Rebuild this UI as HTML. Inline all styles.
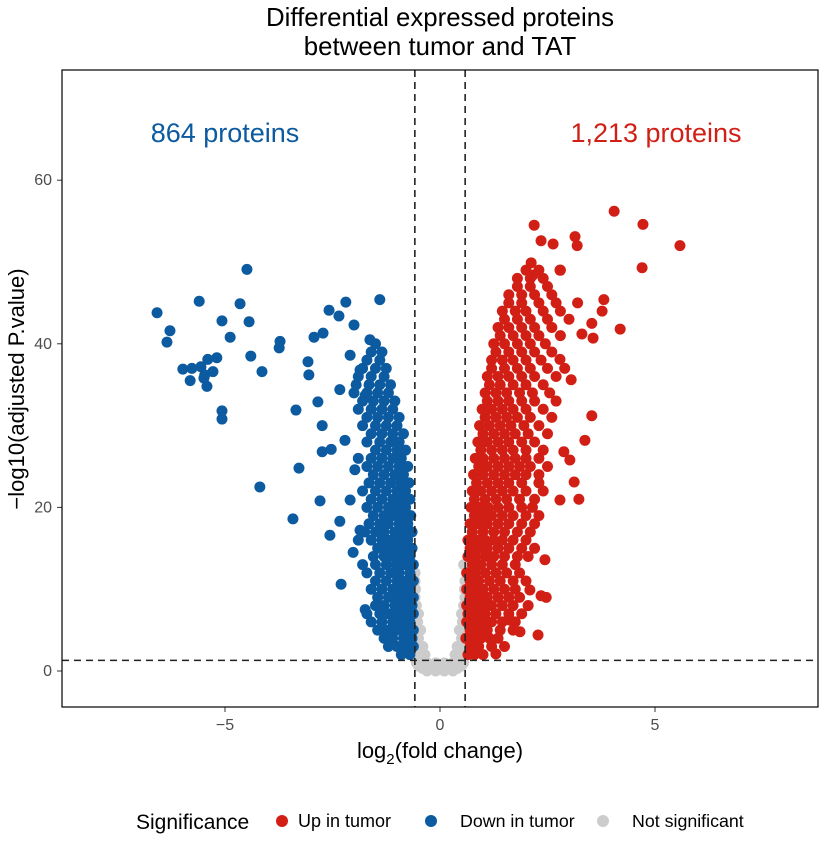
<!DOCTYPE html>
<html><head><meta charset="utf-8"><style>
body{margin:0;background:#fff;}
svg{font-family:"Liberation Sans",Arial,sans-serif;display:block;}
</style></head><body>
<svg id="chart" width="826" height="849" viewBox="0 0 826 849">
<text x="440" y="26" text-anchor="middle" font-size="25.8" fill="#000">Differential expressed proteins</text>
<text x="440" y="55" text-anchor="middle" font-size="25.8" fill="#000">between tumor and TAT</text>
<g id="pts"></g>
<g id="axes"></g>
<rect x="62" y="70" width="756" height="637" fill="none" stroke="#000" stroke-width="1.2"/>
<text x="225" y="142" text-anchor="middle" font-size="27" fill="#0c5aa0">864 proteins</text>
<text x="656" y="142" text-anchor="middle" font-size="27" fill="#d21f15">1,213 proteins</text>
<text transform="translate(24,389) rotate(-90)" text-anchor="middle" font-size="22" fill="#000">−log10(adjusted P.value)</text>
<text x="440" y="758" text-anchor="middle" font-size="22" fill="#000">log<tspan font-size="15" dy="6">2</tspan><tspan dy="-6">(fold change)</tspan></text>
<g>
<text x="136" y="829" font-size="21" fill="#000">Significance</text>
<circle cx="282" cy="821" r="6" fill="#d21f15"/>
<text x="298" y="827" font-size="18">Up in tumor</text>
<circle cx="431" cy="821" r="6" fill="#0c5aa0"/>
<text x="460" y="827" font-size="17.8">Down in tumor</text>
<circle cx="603" cy="821" r="6" fill="#cccccc"/>
<text x="632" y="827" font-size="17.8">Not significant</text>
</g>
</svg>
<script>
const xTicks=[-5,0,5];
const yTicks=[0,20,40,60];
const fcCut=[-0.585,0.585];
const pCut=1.3;
const greyRowsY=[0,0.3,0.6,1,1.5,2,3,4,5,6,7,8,9,10,11,12,13];
const greyRowsX=[[-0.3,-0.1,0.1,0.3],[-0.4,-0.2,0,0.2,0.4],[-0.5,0.5],[-0.55,-0.3,-0.1,0.1,0.3,0.55],[-0.45,0.45],[-0.5,-0.35,0.35,0.5],[-0.55,-0.4,0.4,0.55],[-0.5,0.5],[-0.55,-0.45,0.45,0.55],[-0.52,0.52],[-0.55,-0.5,0.5,0.55],[-0.55,0.55],[-0.58,0.58],[-0.57,0.57],[-0.58,0.58],[-0.58],[0.55]];
const blueRowsY=[2,3,4,5,6,7,8,9,10,11,12,13,14,15,16,17,18,19,20,21,22,23,24,25,26,27,28,29,30,31,32,33,34,35,36,37,38,39,40];
const blueRowsX=[[-0.7,-0.9],[-0.62,-0.8,-1.0,-1.2],[-0.65,-0.85,-1.1,-1.3],[-0.62,-0.8,-1.0,-1.2,-1.45],[-0.7,-0.9,-1.1,-1.35,-1.6],[-0.62,-0.78,-0.98,-1.2,-1.4,-1.7],[-0.65,-0.85,-1.05,-1.3,-1.5],[-0.62,-0.8,-1.0,-1.2,-1.45],[-0.7,-0.9,-1.1,-1.35,-1.6],[-0.62,-0.8,-1.0,-1.25,-1.5],[-0.7,-0.95,-1.15,-1.4,-1.7],[-0.62,-0.82,-1.02,-1.25,-1.5,-1.8],[-0.7,-0.9,-1.1,-1.3,-1.55],[-0.65,-0.85,-1.05,-1.25,-1.45],[-0.75,-0.95,-1.15,-1.35,-1.6,-1.9],[-0.65,-0.85,-1.05,-1.3,-1.5,-1.75],[-0.75,-0.95,-1.2,-1.4,-1.65],[-0.68,-0.88,-1.1,-1.3,-1.55],[-0.8,-1.0,-1.2,-1.45,-1.7],[-0.7,-0.9,-1.1,-1.35,-1.6],[-0.8,-1.0,-1.25,-1.5,-1.8],[-0.72,-0.92,-1.15,-1.4,-1.65],[-0.85,-1.05,-1.3,-1.55],[-0.75,-0.95,-1.2,-1.45,-1.7],[-0.9,-1.1,-1.35,-1.6,-1.9],[-0.8,-1.0,-1.25,-1.5],[-0.95,-1.15,-1.4,-1.7],[-0.85,-1.1,-1.35,-1.6],[-1.0,-1.25,-1.5,-1.8],[-0.95,-1.2,-1.45,-1.7],[-1.1,-1.35,-1.6,-1.9],[-1.05,-1.3,-1.55,-1.8],[-1.2,-1.45,-1.7,-2.0],[-1.15,-1.4,-1.65,-1.95],[-1.3,-1.6,-1.9],[-1.25,-1.5,-1.8],[-1.4,-1.7],[-1.35,-1.6],[-1.5]];
const blueOutX=[-6.58,-6.28,-6.35,-5.6,-4.65,-4.49,-5.07,-4.44,-4.88,-4.4,-4.14,-3.72,-3.74,-5.98,-5.77,-5.56,-5.4,-5.19,-5.47,-5.28,-5.81,-5.49,-5.42,-5.07,-5.07,-4.19,-3.42,-3.28,-3.35,-3.05,-3.07,-2.93,-2.72,-2.58,-2.35,-2.19,-2.0,-1.4,-2.74,-2.74,-2.53,-2.79,-2.56,-2.33,-2.02,-2.3,-2.84,-2.33,-1.86,-2.09,-1.63,-1.74,-2.21,-1.98,-2.09,-1.86,-1.74,-1.28];
const blueOutY=[43.8,41.6,40.2,45.2,44.9,49.1,42.8,42.7,40.8,38.5,36.6,40.3,39.5,36.9,37.0,37.2,38.1,38.3,36.2,36.6,35.5,35.8,34.8,31.8,30.8,22.5,18.6,24.8,31.9,36.2,37.8,40.8,41.3,44.1,43.4,45.1,42.3,45.4,30.0,26.8,27.1,20.8,16.6,18.3,14.5,10.6,32.9,34.4,36.8,38.6,40.5,33.7,28.2,24.6,20.9,17.2,7.5,5.0];
const redRowsY=[2,3,4,5,6,7,8,9,10,11,12,13,14,15,16,17,18,19,20,21,22,23,24,25,26,27,28,29,30,31,32,33,34,35,36,37,38,39,40,41,42,43,44,45,46,47,48,49];
const redRowsX=[[0.65,0.8,1.0],[0.7,0.9,1.2,1.5],[0.6,0.75,0.95,1.15,1.35],[0.7,0.9,1.1,1.4,1.7],[0.62,0.78,0.98,1.2,1.45,1.75],[0.65,0.85,1.05,1.3,1.6,1.9],[0.62,0.8,1.0,1.2,1.45,1.7,2.05],[0.7,0.9,1.1,1.35,1.6,1.85],[0.62,0.8,1.0,1.25,1.5,1.75],[0.7,0.9,1.15,1.4,1.7,2.0],[0.62,0.82,1.05,1.3,1.55,1.85],[0.75,0.95,1.2,1.45,1.75],[0.65,0.82,1.05,1.25,1.5,1.8,2.05],[0.7,0.9,1.1,1.35,1.6,1.9,2.2],[0.65,0.85,1.05,1.25,1.45,1.7,2.0],[0.75,1.0,1.25,1.5,1.8,2.1],[0.7,0.9,1.1,1.35,1.6,1.9,2.2],[0.8,1.0,1.2,1.45,1.7,2.0,2.3],[0.72,0.92,1.12,1.35,1.6,1.9,2.15],[0.8,1.05,1.3,1.55,1.85,2.2],[0.75,0.95,1.2,1.45,1.7,2.0,2.4],[0.85,1.1,1.35,1.6,1.9,2.3],[0.78,1.0,1.25,1.5,1.75,2.0,2.3],[0.9,1.1,1.35,1.6,1.85,2.1,2.5],[0.82,1.0,1.25,1.5,1.75,2.0,2.3],[0.95,1.2,1.45,1.7,2.0,2.4],[0.88,1.1,1.35,1.6,1.9,2.2],[1.0,1.25,1.5,1.75,2.05,2.5],[0.92,1.15,1.4,1.65,1.95,2.3],[1.05,1.3,1.55,1.8,2.1,2.6],[0.98,1.2,1.45,1.7,2.0,2.4],[1.1,1.35,1.6,1.9,2.2,2.7],[1.05,1.3,1.55,1.85,2.15,2.55],[1.15,1.4,1.7,2.0,2.4],[1.1,1.35,1.6,1.9,2.2,2.7],[1.2,1.5,1.8,2.1,2.5,2.9],[1.2,1.45,1.7,2.0,2.35],[1.3,1.6,1.9,2.2,2.6],[1.25,1.5,1.8,2.1,2.45],[1.4,1.7,2.0,2.3,2.8],[1.35,1.6,1.9,2.2,2.6],[1.5,1.8,2.1,2.5,3.0],[1.45,1.75,2.0,2.4,2.8],[1.6,1.9,2.3,2.7,3.2],[1.6,1.9,2.2,2.6],[1.8,2.1,2.5],[1.8,2.1,2.4],[2.0,2.3,2.8]];
const redOutX=[4.05,4.72,5.58,4.7,2.19,3.14,3.19,2.35,2.63,2.12,2.16,2.79,3.81,4.19,3.56,3.53,2.88,3.12,3.23,2.35,2.47,2.28,1.86,1.3,3.77,3.53,3.3,2.79,3.05,3.37,3.02,2.79,2.44,2.09,1.63];
const redOutY=[56.2,54.6,52.0,49.3,54.5,53.1,52.0,52.6,52.2,49.9,48.4,49.0,45.4,41.8,40.7,31.2,26.8,23.1,21.0,9.2,9.0,4.4,4.8,2.1,44.0,42.5,41.2,38.1,35.6,28.2,25.8,20.9,13.6,9.9,6.2];

const NS="http://www.w3.org/2000/svg";
const sx=v=>440+43*v;
const sy=v=>671-8.18*v;
const pts=document.getElementById('pts');
const axes=document.getElementById('axes');
function dot(x,y,c,name){
  const e=document.createElementNS(NS,'circle');
  e.setAttribute('cx',sx(x));e.setAttribute('cy',sy(y));e.setAttribute('r',5.5);e.setAttribute('fill',c);
  
  
  pts.appendChild(e);
}
function rows(ys,xs,c,name){ys.forEach((y,i)=>xs[i].forEach(x=>dot(x,y,c,name)));}
rows(greyRowsY,greyRowsX,'#cccccc','point-not-significant');
rows(blueRowsY,blueRowsX,'#0c5aa0','point-down');
blueOutX.forEach((x,i)=>dot(x,blueOutY[i],'#0c5aa0','point-down'));
rows(redRowsY,redRowsX,'#d21f15','point-up');
redOutX.forEach((x,i)=>dot(x,redOutY[i],'#d21f15','point-up'));

function line(x1,y1,x2,y2,attrs,name){
  const e=document.createElementNS(NS,'line');
  e.setAttribute('x1',x1);e.setAttribute('y1',y1);e.setAttribute('x2',x2);e.setAttribute('y2',y2);
  for(const k in attrs)e.setAttribute(k,attrs[k]);
  
  
  axes.appendChild(e);
}
function txt(x,y,s,anchor,name){
  const e=document.createElementNS(NS,'text');
  e.setAttribute('x',x);e.setAttribute('y',y);e.setAttribute('text-anchor',anchor);
  e.setAttribute('font-size','16');e.setAttribute('fill','#4d4d4d');e.textContent=s;
  
  
  axes.appendChild(e);
}
const dash={stroke:'#222','stroke-width':1.6,'stroke-dasharray':'7,5'};
fcCut.forEach(v=>line(sx(v),70,sx(v),707,dash,'fold-change-cutoff-line'));
line(62,sy(pCut),818,sy(pCut),dash,'pvalue-cutoff-line');
xTicks.forEach(v=>{
  line(sx(v),707,sx(v),712,{stroke:'#333','stroke-width':1},'x-tick');
  txt(sx(v),730,v<0?'−'+Math.abs(v):String(v),'middle','x-tick-label');
});
yTicks.forEach(v=>{
  line(57,sy(v),62,sy(v),{stroke:'#333','stroke-width':1},'y-tick');
  txt(52,sy(v)+5,String(v),'end','y-tick-label');
});
</script>
</body></html>
